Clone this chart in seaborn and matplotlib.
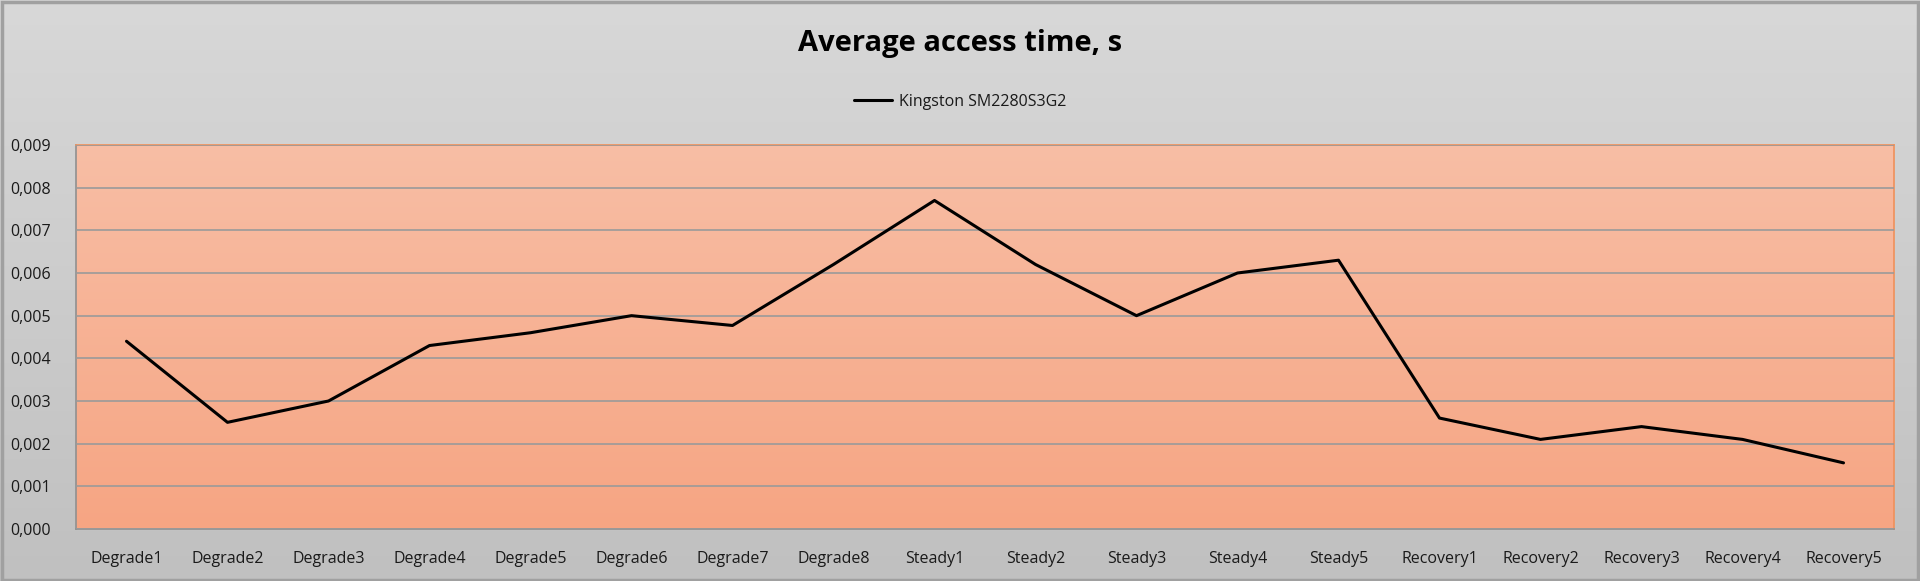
import numpy as np
import pandas as pd
import matplotlib
matplotlib.use("Agg")
import matplotlib.pyplot as plt
from matplotlib.ticker import FuncFormatter, FixedLocator, MultipleLocator
from matplotlib.colors import LinearSegmentedColormap
import seaborn as sns

categories = ["Degrade1", "Degrade2", "Degrade3", "Degrade4", "Degrade5", "Degrade6",
              "Degrade7", "Degrade8", "Steady1", "Steady2", "Steady3", "Steady4",
              "Steady5", "Recovery1", "Recovery2", "Recovery3", "Recovery4", "Recovery5"]
values = [0.0044, 0.0025, 0.0030, 0.0043, 0.0046, 0.0050,
          0.00477, 0.0062, 0.0077, 0.0062, 0.0050, 0.0060,
          0.0063, 0.0026, 0.0021, 0.0024, 0.0021, 0.00155]
series_name = "Kingston SM2280S3G2"
title = "Average access time, s"

sns.set_style("white")
plt.rcParams['font.family'] = ['Open Sans', 'DejaVu Sans']

df = pd.DataFrame({"x": np.arange(len(categories)), "y": values, "series": series_name})

fig = plt.figure(figsize=(19.2, 5.81), dpi=100)

# figure background gradient
bg = fig.add_axes([0, 0, 1, 1], zorder=-10)
grad = np.linspace(0, 1, 256).reshape(-1, 1)
cmap_bg = LinearSegmentedColormap.from_list("bg", ["#d8d8d8", "#c0c0c0"])
bg.imshow(grad, aspect="auto", cmap=cmap_bg, extent=[0, 1, 0, 1], origin="upper")
bg.set_xlim(0, 1); bg.set_ylim(0, 1)
bg.axis("off")
bg.add_patch(plt.Rectangle((0.0008, 0.002), 0.9984, 0.995, fill=False, edgecolor="#a0a0a0", lw=2.5, transform=bg.transAxes))

ax = fig.add_axes([76/1920, 1-529/581, (1894-76)/1920, (529-145)/581])
ax.set_facecolor("none")
cmap_pa = LinearSegmentedColormap.from_list("pa", ["#f8bea5", "#f6a583"])
ax.imshow(grad, aspect="auto", cmap=cmap_pa, extent=[-0.5, 17.5, 0, 0.009], origin="upper", zorder=0)

sns.lineplot(data=df, x="x", y="y", hue="series", palette=["black"], linewidth=2.2, ax=ax, zorder=3)

ax.set_xlim(-0.5, len(categories) - 0.5)
ax.set_ylim(0, 0.009)
ax.yaxis.set_major_locator(MultipleLocator(0.001))
ax.yaxis.set_major_formatter(FuncFormatter(lambda v, p: f"{v:.3f}".replace(".", ",")))
ax.set_xticks(np.arange(len(categories)))
ax.set_xticklabels(categories)
ax.xaxis.set_minor_locator(FixedLocator(np.arange(-0.5, len(categories), 1.0)))
ax.tick_params(axis="x", which="major", length=0, pad=16, labelsize=11.5, colors="#1a1a1a")
ax.tick_params(axis="x", which="minor", length=6, width=1, color="#909090", direction="out")
ax.tick_params(axis="y", which="major", length=6, width=1, color="#909090", direction="out", labelsize=11.5, labelcolor="#1a1a1a", pad=12)
ax.grid(axis="y", color="#9a9a9a", linewidth=1.2, zorder=1)
ax.set_axisbelow(False)
for l in ax.get_ygridlines():
    l.set_zorder(1)
ax.set_xlabel("")
ax.set_ylabel("")
for s in ["left", "bottom"]:
    ax.spines[s].set_color("#909090")
    ax.spines[s].set_linewidth(1.2)
for s in ["top", "right"]:
    ax.spines[s].set_color("#f0905a")
    ax.spines[s].set_linewidth(1.2)

leg = ax.legend(loc="center", bbox_to_anchor=(960/1920, 1-102/581), bbox_transform=fig.transFigure,
                frameon=False, fontsize=11.5, handlelength=2.4, handletextpad=0.4)
for t in leg.get_texts():
    t.set_color("#1a1a1a")

fig.text(960/1920, 1-44/581, title, ha="center", va="center", fontsize=21, fontweight="bold", color="black")

fig.savefig("out.png", dpi=100)
